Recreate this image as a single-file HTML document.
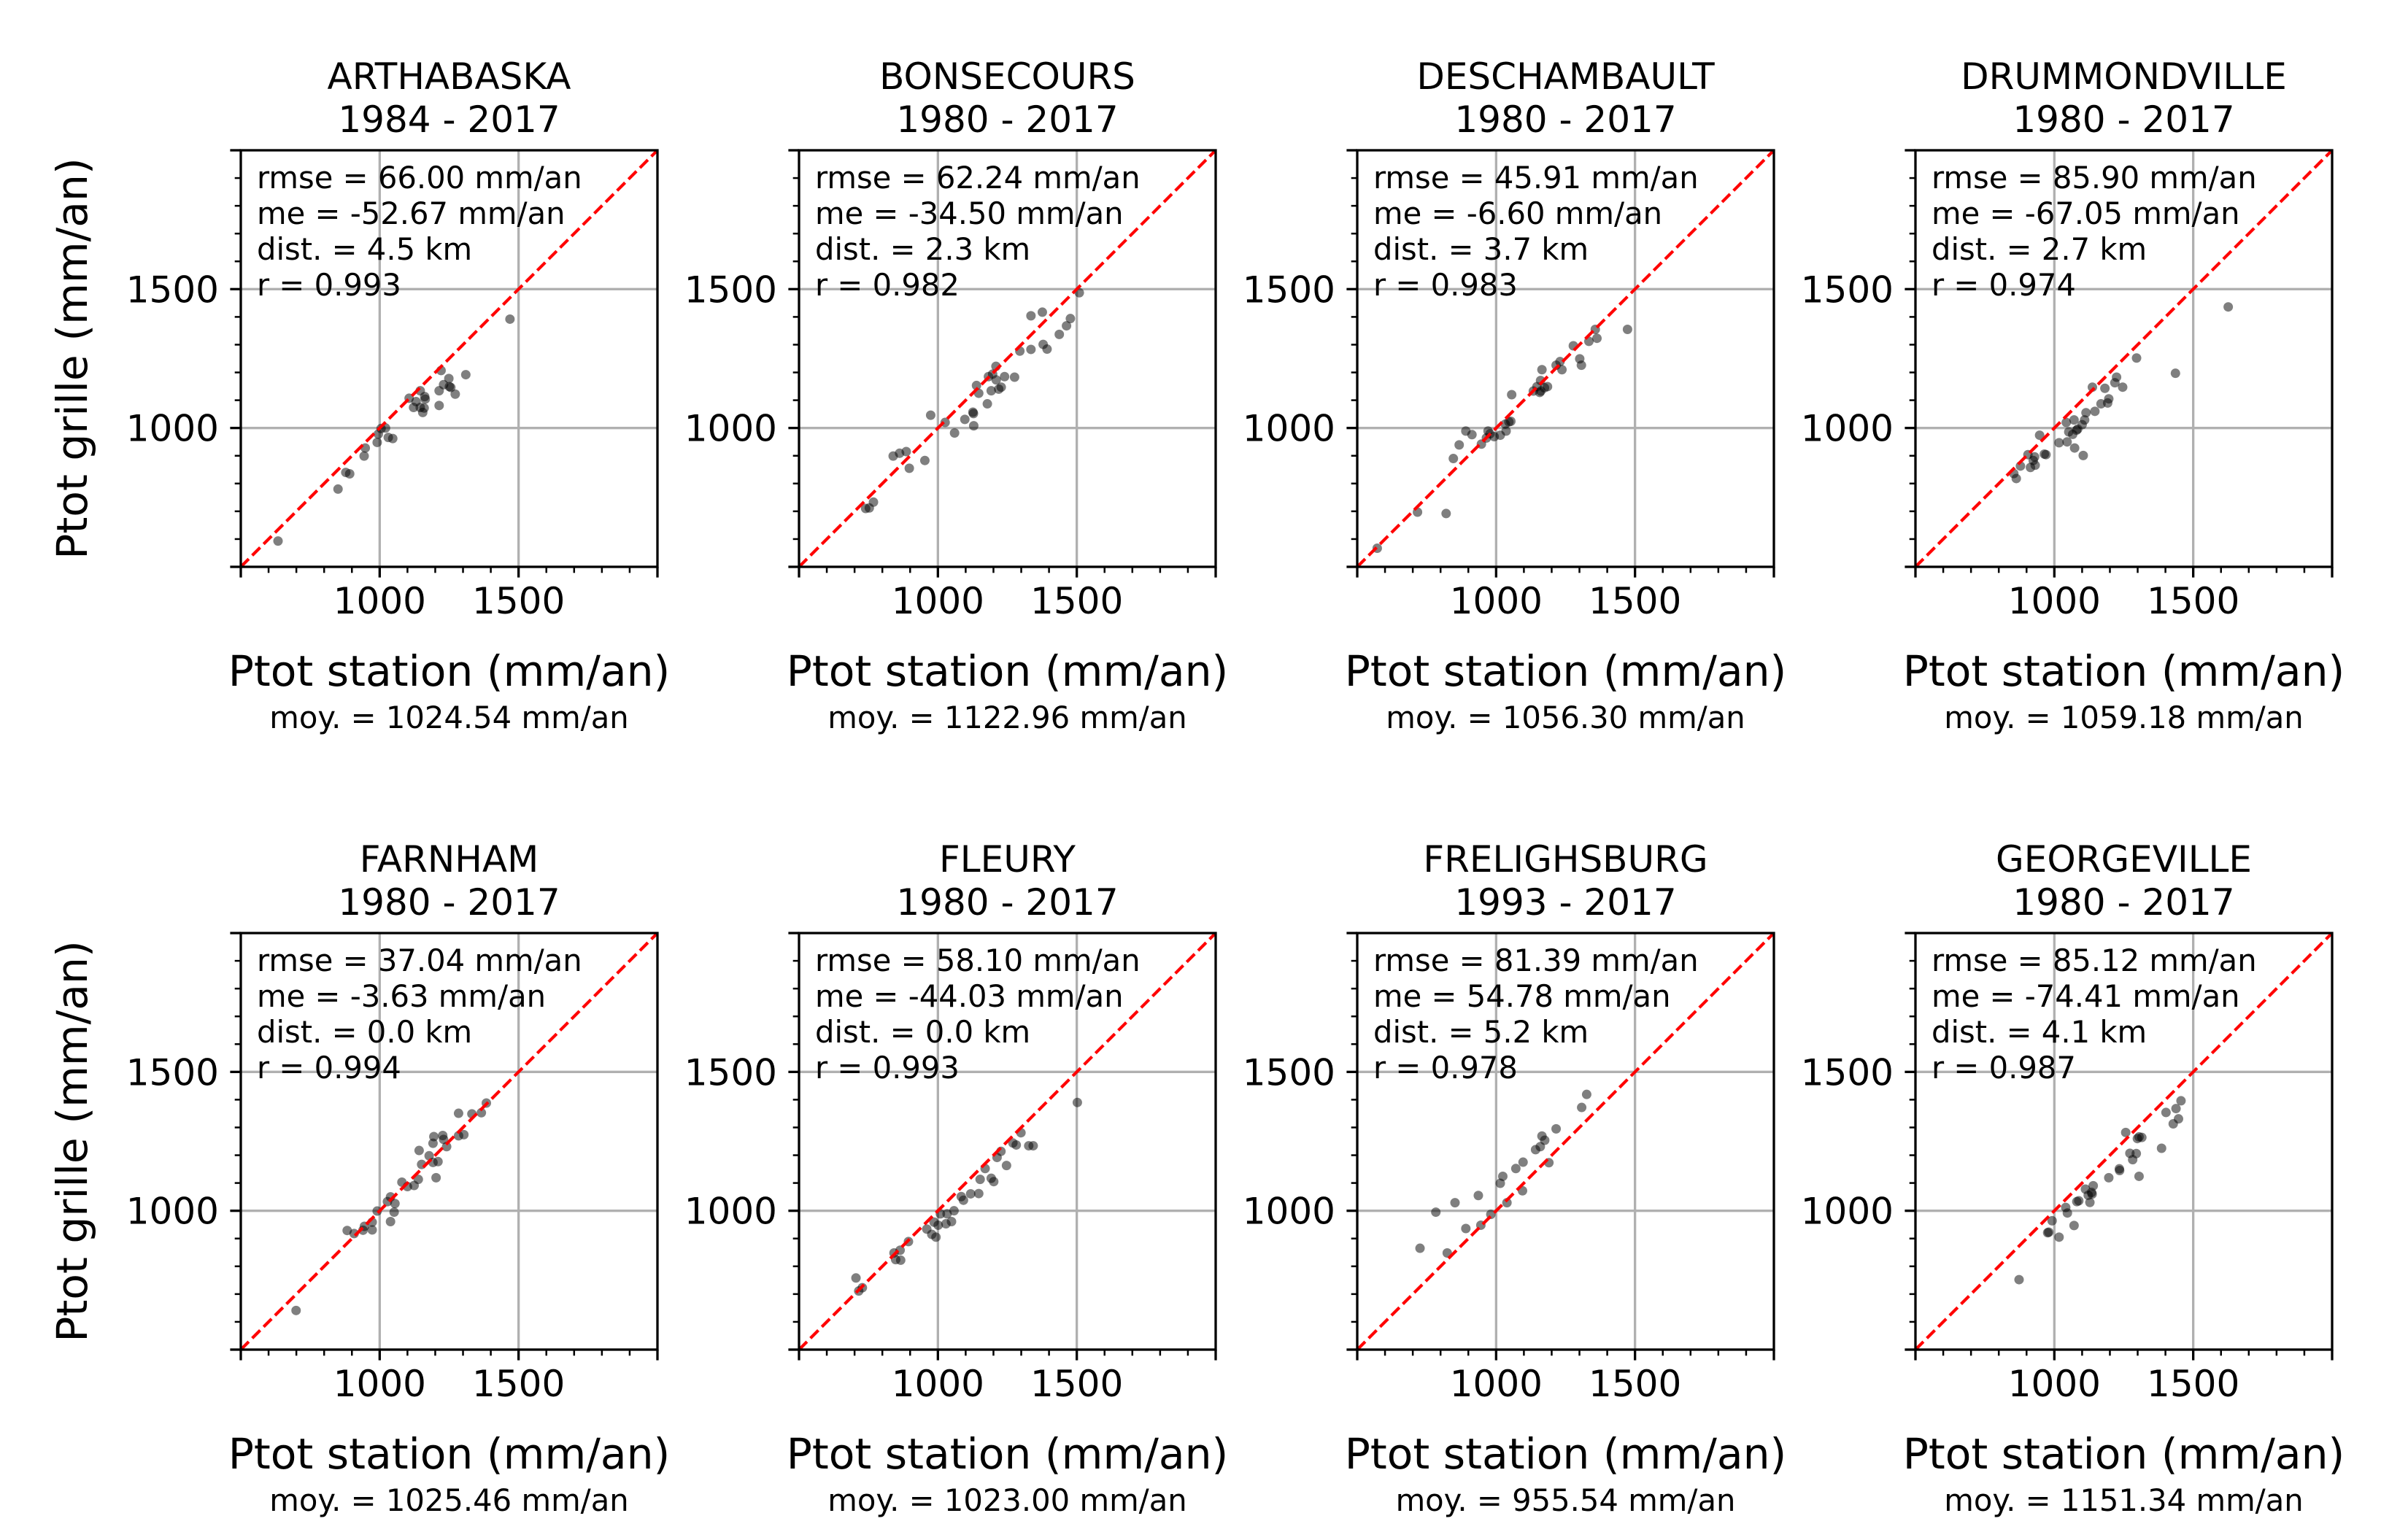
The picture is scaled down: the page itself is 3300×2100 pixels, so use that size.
<!DOCTYPE html>
<html><head><meta charset="utf-8">
<style>
html,body{margin:0;padding:0;background:#fff;}
svg{display:block;font-family:"DejaVu Sans","Liberation Sans",sans-serif;}
</style></head>
<body>
<svg id="fig" width="3300" height="2100" viewBox="0 0 3300 2100" xmlns="http://www.w3.org/2000/svg">
<rect x="0" y="0" width="3300" height="2100" fill="#fff"/>
</svg>
<script>
const stationNames = ["ARTHABASKA","BONSECOURS","DESCHAMBAULT","DRUMMONDVILLE","FARNHAM","FLEURY","FRELIGHSBURG","GEORGEVILLE"];
const periods = ["1984 - 2017","1980 - 2017","1980 - 2017","1980 - 2017","1980 - 2017","1980 - 2017","1993 - 2017","1980 - 2017"];
const rmseLabels = ["66.00","62.24","45.91","85.90","37.04","58.10","81.39","85.12"];
const meLabels = ["-52.67","-34.50","-6.60","-67.05","-3.63","-44.03","54.78","-74.41"];
const distLabels = ["4.5","2.3","3.7","2.7","0.0","0.0","5.2","4.1"];
const rLabels = ["0.993","0.982","0.983","0.974","0.994","0.993","0.978","0.987"];
const meanLabels = ["1024.54","1122.96","1056.30","1059.18","1025.46","1023.00","955.54","1151.34"];
const xTicks = [1000,1500];
const yTicks = [1000,1500];

const stationArthabaska = [634,850,878,892,944,948,991,995,1005,1021,1031,1047,1106,1122,1131,1146,1146,1155,1160,1162,1164,1214,1214,1221,1230,1249,1251,1256,1272,1310,1469];
const gridArthabaska    = [593,780,840,835,899,928,948,978,998,1000,966,962,1107,1074,1095,1134,1074,1056,1072,1113,1104,1134,1081,1207,1156,1178,1149,1146,1122,1192,1392];
const stationBonsecours = [740,753,768,839,862,886,897,953,974,1026,1060,1097,1126,1128,1129,1139,1147,1178,1182,1192,1197,1209,1210,1219,1228,1240,1276,1295,1335,1335,1376,1379,1393,1437,1463,1477,1509];
const gridBonsecours    = [710,712,733,899,909,915,855,883,1046,1020,982,1031,1057,1052,1008,1153,1125,1087,1185,1134,1194,1222,1173,1140,1147,1185,1183,1277,1404,1283,1417,1301,1284,1337,1368,1394,1487];
const stationDeschambault = [572,717,820,846,867,891,913,947,965,971,978,993,1015,1036,1033,1046,1053,1056,1134,1147,1157,1161,1160,1174,1185,1165,1216,1230,1237,1278,1301,1307,1334,1357,1363,1473];
const gridDeschambault    = [567,697,692,890,939,989,976,942,964,989,979,969,974,989,1014,1022,1024,1120,1133,1149,1128,1133,1171,1145,1149,1210,1226,1239,1210,1296,1249,1226,1312,1355,1323,1355];
const stationDrummondville = [854,863,878,905,914,924,929,931,947,964,970,1017,1043,1046,1052,1066,1071,1073,1080,1084,1100,1104,1109,1114,1146,1137,1168,1182,1192,1196,1218,1224,1246,1296,1436,1626];
const gridDrummondville    = [836,818,863,904,858,883,896,866,974,906,904,947,1020,950,986,977,1029,928,992,996,1012,901,1029,1055,1060,1147,1087,1143,1090,1105,1163,1183,1147,1252,1197,1436];
const stationFarnham = [699,883,908,940,945,973,973,991,1028,1039,1039,1052,1055,1080,1100,1124,1139,1142,1151,1178,1192,1192,1195,1203,1210,1227,1230,1241,1284,1284,1303,1332,1366,1384];
const gridFarnham    = [641,929,918,930,944,931,959,999,1033,1050,961,995,1026,1103,1087,1091,1113,1217,1167,1198,1174,1243,1267,1119,1177,1271,1257,1231,1351,1270,1274,1349,1353,1388];
const stationFleury = [705,715,728,842,848,864,866,894,960,978,993,986,1001,1009,1033,1029,1049,1058,1084,1092,1118,1147,1152,1170,1192,1201,1213,1227,1247,1270,1282,1299,1327,1343,1502];
const gridFleury    = [758,711,723,848,824,858,822,889,934,915,905,959,948,989,989,953,961,1000,1051,1038,1061,1062,1113,1152,1117,1105,1192,1214,1163,1244,1237,1281,1234,1234,1390];
const stationFrelighsburg = [726,783,824,852,891,936,945,981,1015,1024,1039,1071,1095,1097,1142,1159,1165,1175,1190,1216,1308,1326];
const gridFrelighsburg    = [865,995,848,1029,936,1055,948,987,1099,1124,1029,1152,1072,1175,1220,1231,1269,1254,1173,1295,1372,1419];
const stationGeorgeville = [873,976,980,992,1017,1041,1047,1071,1081,1088,1112,1122,1128,1136,1140,1134,1196,1234,1235,1257,1272,1282,1295,1299,1305,1305,1315,1386,1402,1428,1438,1447,1456];
const gridGeorgeville    = [752,921,923,964,905,1012,992,947,1033,1036,1078,1056,1030,1060,1090,1066,1119,1151,1145,1282,1207,1184,1206,1260,1124,1266,1264,1225,1354,1313,1368,1331,1396];

const stationSeries = [stationArthabaska,stationBonsecours,stationDeschambault,stationDrummondville,stationFarnham,stationFleury,stationFrelighsburg,stationGeorgeville];
const gridSeries = [gridArthabaska,gridBonsecours,gridDeschambault,gridDrummondville,gridFarnham,gridFleury,gridFrelighsburg,gridGeorgeville];

const NS = "http://www.w3.org/2000/svg";
const svg = document.getElementById("fig");
const AX_MIN = 500, AX_MAX = 2000, SIZE = 571;
const colLeft = [330,1095,1860,2625];
const rowTop = [206,1279];

function mk(tag, attrs, parent){
  const e = document.createElementNS(NS, tag);
  for (const k in attrs) e.setAttribute(k, attrs[k]);
  parent.appendChild(e);
  return e;
}

stationNames.forEach((name, i) => {
  const L = colLeft[i % 4], T = rowTop[Math.floor(i / 4)];
  const sx = v => L + (v - AX_MIN) / (AX_MAX - AX_MIN) * SIZE;
  const sy = v => T + SIZE - (v - AX_MIN) / (AX_MAX - AX_MIN) * SIZE;
  const slug = name.toLowerCase();
  const g = mk("g", {}, svg);
  
  

  xTicks.forEach(t => {
    const l = mk("line", {x1: sx(t), x2: sx(t), y1: T, y2: T + SIZE, stroke: "#b0b0b0", "stroke-width": 3.3}, g);
    
    
  });
  yTicks.forEach(t => {
    const l = mk("line", {x1: L, x2: L + SIZE, y1: sy(t), y2: sy(t), stroke: "#b0b0b0", "stroke-width": 3.3}, g);
    
    
  });

  const xs = stationSeries[i], ys = gridSeries[i];
  xs.forEach((xv, j) => {
    const c = mk("circle", {cx: sx(xv), cy: sy(ys[j]), r: 6.5, fill: "#000", "fill-opacity": 0.5}, g);
    
    
  });

  const d = mk("line", {x1: sx(AX_MIN), y1: sy(AX_MIN), x2: sx(AX_MAX), y2: sy(AX_MAX), stroke: "#ff0000", "stroke-width": 4.2, "stroke-dasharray": "15.4,6.7"}, g);
  
  

  const f = mk("rect", {x: L, y: T, width: SIZE, height: SIZE, fill: "none", stroke: "#000", "stroke-width": 3.3}, g);
  
  

  for (let v = AX_MIN; v <= AX_MAX; v += 100) {
    const major = (v % 500 === 0);
    const len = major ? 14.6 : 8.3;
    const tx = mk("line", {x1: sx(v), x2: sx(v), y1: T + SIZE, y2: T + SIZE + len, stroke: "#000", "stroke-width": major ? 3.3 : 2.5}, g);
    
    
    const ty = mk("line", {x1: L - len, x2: L, y1: sy(v), y2: sy(v), stroke: "#000", "stroke-width": major ? 3.3 : 2.5}, g);
    
    
  }
  xTicks.forEach(t => {
    const tl = mk("text", {x: sx(t), y: T + SIZE + 64, "font-size": 50, "text-anchor": "middle"}, g);
    tl.textContent = t;
    
    
  });
  yTicks.forEach(t => {
    const tl = mk("text", {x: L - 30, y: sy(t) + 18, "font-size": 50, "text-anchor": "end"}, g);
    tl.textContent = t;
    
    
  });

  const t1 = mk("text", {x: L + SIZE / 2, y: T - 84, "font-size": 50, "text-anchor": "middle"}, g);
  t1.textContent = name;
  
  
  const t2 = mk("text", {x: L + SIZE / 2, y: T - 25, "font-size": 50, "text-anchor": "middle"}, g);
  t2.textContent = periods[i];
  
  

  const lines = ["rmse = " + rmseLabels[i] + " mm/an", "me = " + meLabels[i] + " mm/an", "dist. = " + distLabels[i] + " km", "r = " + rLabels[i]];
  lines.forEach((s, k) => {
    const st = mk("text", {x: L + 22, y: T + 52 + 49 * k, "font-size": 41.7}, g);
    st.textContent = s;
    
    
  });

  const xl = mk("text", {x: L + SIZE / 2, y: T + 734, "font-size": 58.3, "text-anchor": "middle"}, g);
  xl.textContent = "Ptot station (mm/an)";
  
  
  const mn = mk("text", {x: L + SIZE / 2, y: T + 792, "font-size": 41.7, "text-anchor": "middle"}, g);
  mn.textContent = "moy. = " + meanLabels[i] + " mm/an";
  
  

  if (i % 4 === 0) {
    const cy = T + SIZE / 2;
    const yl = mk("text", {x: 119, y: cy, "font-size": 58.3, "text-anchor": "middle", transform: "rotate(-90 119 " + cy + ")"}, g);
    yl.textContent = "Ptot grille (mm/an)";
    
    
  }
});
</script>
</body></html>
